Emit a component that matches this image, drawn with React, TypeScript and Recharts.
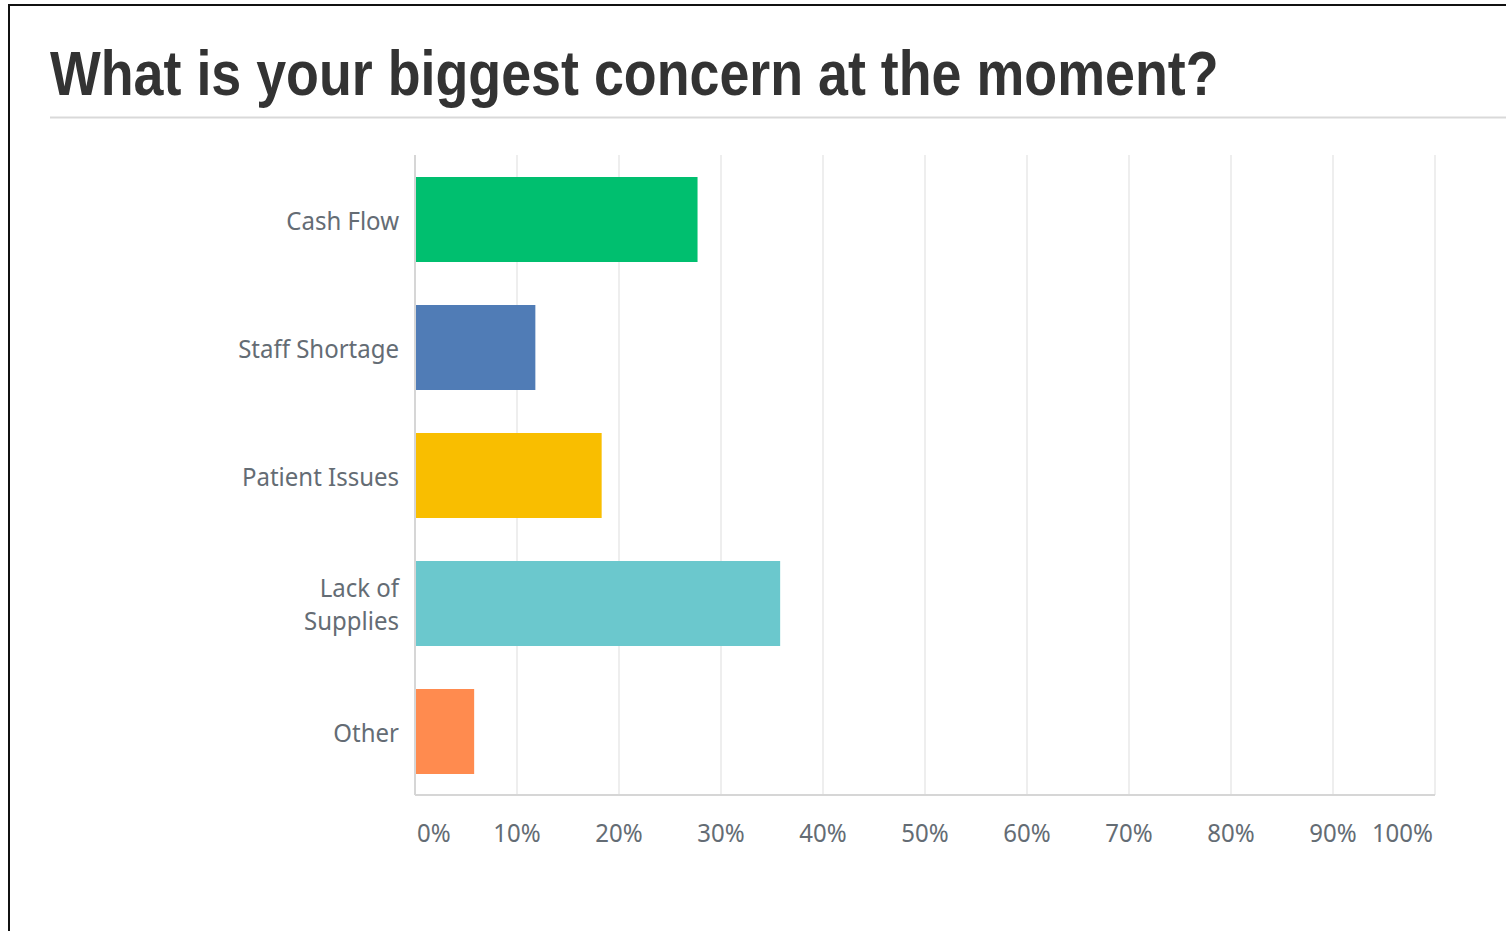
import React from "react";
import { BarChart, Bar, XAxis, YAxis, CartesianGrid, Cell } from "recharts";

const categories = ["Cash Flow", "Staff Shortage", "Patient Issues", "Lack of Supplies", "Other"];
const percents = [27.7, 11.8, 18.3, 35.8, 5.8];
const barColors = ["#00bf6f", "#507cb6", "#f9be00", "#6bc8cd", "#ff8b4f"];
const xTicks = [0, 10, 20, 30, 40, 50, 60, 70, 80, 90, 100];

const data = categories.map((name, i) => ({ name, value: percents[i] }));

const LABEL_FONT = '"Noto Sans", sans-serif';
const LABEL_SIZE = 24;
const STRETCH = 1.08;
const LABEL_COLOR = "#646c74";

// y-axis labels, wrapped at ~15 chars like the survey tool does
function CategoryTick(props: any) {
  const { x, y, payload } = props;
  const words = String(payload.value).split(" ");
  const lines: string[] = [];
  let cur = "";
  for (const w of words) {
    const next = cur ? cur + " " + w : w;
    if (next.length > 15 && cur) {
      lines.push(cur);
      cur = w;
    } else cur = next;
  }
  lines.push(cur);
  const lh = 33;
  const first = -((lines.length - 1) * lh) / 2 + 1.5;
  return (
    <g>
      {lines.map((l, i) => (
        <text
          key={i}
          transform={`translate(${x},${y + first + i * lh}) scale(1,${STRETCH})`}
          y={LABEL_SIZE * 0.357}
          textAnchor="end"
          fontFamily={LABEL_FONT}
          fontSize={LABEL_SIZE}
          fill={LABEL_COLOR}
        >
          {l}
        </text>
      ))}
    </g>
  );
}

function PercentTick(props: any) {
  const { x, y, payload } = props;
  const v = payload.value;
  const anchor = v === 0 ? "start" : v === 100 ? "end" : "middle";
  const dx = v === 0 ? 2 : v === 100 ? -2 : 0;
  return (
    <text
      transform={`translate(${x + dx},${y}) scale(1,${STRETCH})`}
      y={14}
      textAnchor={anchor}
      fontFamily={LABEL_FONT}
      fontSize={LABEL_SIZE}
      fill={LABEL_COLOR}
    >
      {v}%
    </text>
  );
}

export default function App() {
  return (
    <div
      style={{
        position: "fixed",
        left: 0,
        top: 0,
        width: 1506,
        height: 931,
        background: "#fff",
        overflow: "hidden",
      }}
    >
      <svg width={1506} height={931} style={{ position: "absolute", left: 0, top: 0 }}>
        <line x1={9} y1={4} x2={9} y2={931} stroke="#111" strokeWidth={2} />
        <line x1={8} y1={5} x2={1506} y2={5} stroke="#111" strokeWidth={2} />
        <text
          transform="translate(50,95) scale(1,1.18)"
          fontFamily='"Liberation Sans", Arial, sans-serif'
          fontWeight={700}
          fontSize={53.8}
          fill="#333"
        >
          What is your biggest concern at the moment?
        </text>
        <line x1={50} y1={117.5} x2={1506} y2={117.5} stroke="#d9d9d9" strokeWidth={2} />
      </svg>
      <div style={{ position: "absolute", left: 0, top: 0 }}>
        <BarChart
          width={1506}
          height={931}
          data={data}
          layout="vertical"
          margin={{ top: 155, right: 71, bottom: 76, left: 0 }}
          barSize={85}
        >
          <CartesianGrid horizontal={false} stroke="#e8e8e8" strokeWidth={1.5} />
          <XAxis
            type="number"
            domain={[0, 100]}
            ticks={xTicks}
            interval={0}
            tickLine={false}
            axisLine={{ stroke: "#d6d6d6", strokeWidth: 2 }}
            tickMargin={26}
            height={60}
            tick={<PercentTick />}
          />
          <YAxis
            type="category"
            dataKey="name"
            width={415}
            interval={0}
            tickLine={false}
            axisLine={{ stroke: "#d6d6d6", strokeWidth: 2 }}
            tickMargin={10}
            tick={<CategoryTick />}
          />
          <Bar dataKey="value" isAnimationActive={false}>
            {data.map((d, i) => (
              <Cell key={d.name} fill={barColors[i]} />
            ))}
          </Bar>
        </BarChart>
      </div>
    </div>
  );
}
